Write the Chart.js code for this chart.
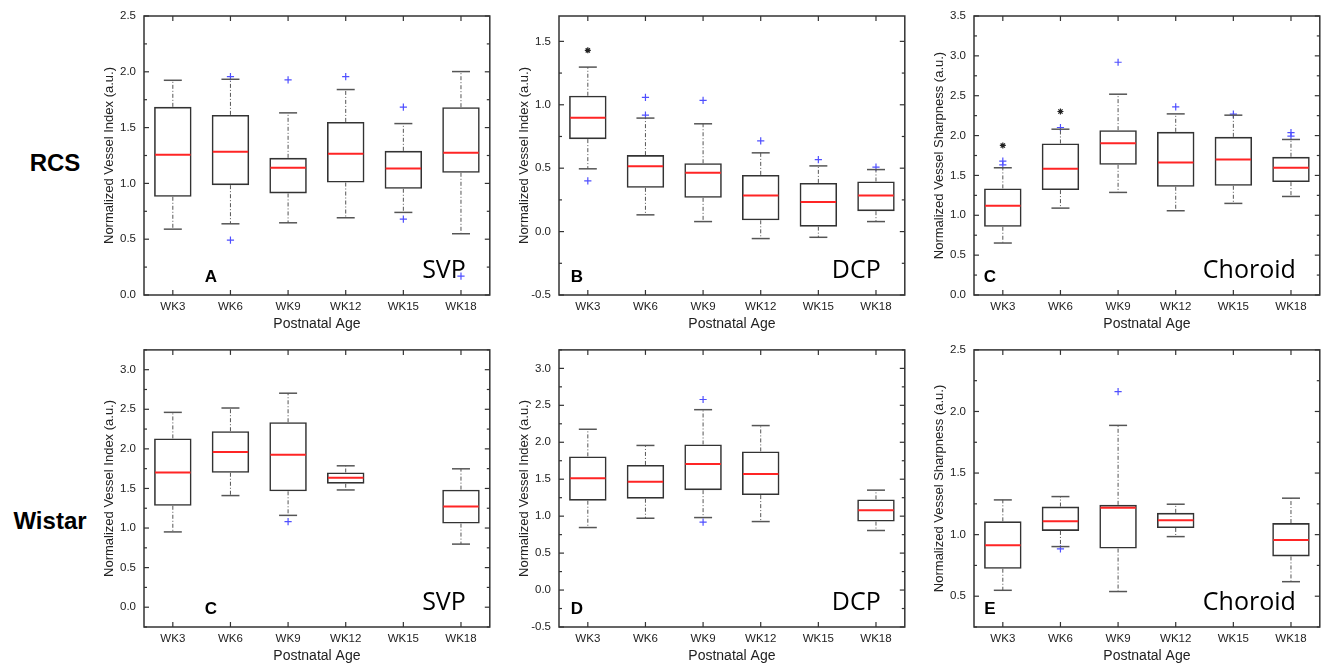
<!DOCTYPE html>
<html>
<head>
<meta charset="utf-8">
<script src="https://cdn.jsdelivr.net/npm/chart.js@4.4.0/dist/chart.umd.min.js"></script>
<style>
  body { margin: 0; background: #fff; width: 1323px; height: 664px; overflow: hidden; position: relative; font-family: "Liberation Sans", Arial, sans-serif; }
  canvas { position: absolute; }
  .row { position: absolute; font-weight: bold; font-size: 24px; color: #000; transform: translate(-50%, -50%); white-space: nowrap; }
</style>
</head>
<body>
<div class="row" style="left:55px;top:163px">RCS</div>
<div class="row" style="left:50px;top:521px">Wistar</div>
<canvas id="c0"></canvas>
<canvas id="c1"></canvas>
<canvas id="c2"></canvas>
<canvas id="c3"></canvas>
<canvas id="c4"></canvas>
<canvas id="c5"></canvas>
<script>
const weeks = ['WK3', 'WK6', 'WK9', 'WK12', 'WK15', 'WK18'];

// each box: [low whisker, Q1, median, Q3, high whisker]
const rcsSvp = [
  [0.59, 0.88, 1.256, 1.686, 1.924],
  [0.638, 0.984, 1.283, 1.614, 1.933],
  [0.647, 0.91, 1.14, 1.229, 1.632],
  [0.692, 1.008, 1.265, 1.551, 1.841],
  [0.74, 0.952, 1.134, 1.292, 1.536],
  [0.549, 1.095, 1.274, 1.683, 2.002]
];
const rcsSvpOutliers = [['WK6', 1.957], ['WK6', 0.492], ['WK9', 1.927], ['WK12', 1.957], ['WK15', 1.683], ['WK15', 0.68], ['WK18', 0.17]];

const rcsDcp = [
  [0.495, 0.729, 0.897, 1.071, 1.297],
  [0.132, 0.345, 0.516, 0.603, 0.895],
  [0.079, 0.266, 0.463, 0.539, 0.85],
  [-0.055, 0.089, 0.284, 0.447, 0.621],
  [-0.045, 0.039, 0.234, 0.384, 0.518],
  [0.079, 0.161, 0.284, 0.395, 0.489]
];
const rcsDcpOutliers = [['WK3', 0.40], ['WK6', 1.058], ['WK6', 0.918], ['WK9', 1.034], ['WK12', 0.716], ['WK15', 0.568], ['WK18', 0.508]];
const rcsDcpStars = [['WK3', 1.429]];

const rcsChoroid = [
  [0.652, 0.856, 1.119, 1.337, 1.596],
  [1.09, 1.316, 1.583, 1.901, 2.08],
  [1.287, 1.633, 1.905, 2.068, 2.519],
  [1.057, 1.358, 1.663, 2.047, 2.272],
  [1.149, 1.37, 1.7, 1.984, 2.256],
  [1.236, 1.416, 1.596, 1.734, 1.951]
];
const rcsChoroidOutliers = [['WK3', 1.679], ['WK3', 1.633], ['WK6', 2.101], ['WK9', 2.92], ['WK12', 2.36], ['WK15', 2.268], ['WK18', 2.038], ['WK18', 1.992]];
const rcsChoroidStars = [['WK3', 1.876], ['WK6', 2.302]];

const wistarSvp = [
  [0.951, 1.281, 1.702, 2.132, 2.461],
  [1.41, 1.698, 1.961, 2.223, 2.516],
  [1.16, 1.464, 1.927, 2.336, 2.703],
  [1.481, 1.56, 1.635, 1.702, 1.786],
  null,
  [0.797, 1.056, 1.272, 1.485, 1.748]
];
const wistarSvpOutliers = [['WK9', 1.081]];

const wistarDcp = [
  [0.846, 1.209, 1.514, 1.809, 2.176],
  [0.972, 1.236, 1.464, 1.693, 1.957],
  [0.981, 1.352, 1.706, 1.97, 2.441],
  [0.927, 1.285, 1.572, 1.876, 2.226],
  null,
  [0.806, 0.927, 1.079, 1.227, 1.352]
];
const wistarDcpOutliers = [['WK9', 2.579], ['WK9', 0.918]];

const wistarChoroid = [
  [0.548, 0.723, 0.914, 1.108, 1.282],
  [0.903, 1.03, 1.108, 1.228, 1.309],
  [0.538, 0.887, 1.218, 1.242, 1.887],
  [0.984, 1.054, 1.116, 1.177, 1.247],
  null,
  [0.618, 0.823, 0.957, 1.094, 1.296]
];
const wistarChoroidOutliers = [['WK6', 0.884], ['WK9', 2.161]];

const indexTitle = 'Normalized Vessel Index (a.u.)';
const sharpTitle = 'Normalized Vessel Sharpness (a.u.)';

const panels = [
  { id: 'c0', stats: rcsSvp, outliers: rcsSvpOutliers, stars: [], min: 0, max: 2.5, title: indexTitle, letter: 'A', region: 'SVP', left: 144, top: 0, pad: 16, height: 333, letterDx: 67 },
  { id: 'c1', stats: rcsDcp, outliers: rcsDcpOutliers, stars: rcsDcpStars, min: -0.5, max: 1.7, title: indexTitle, letter: 'B', region: 'DCP', left: 559, top: 0, pad: 16, height: 333, letterDx: 18 },
  { id: 'c2', stats: rcsChoroid, outliers: rcsChoroidOutliers, stars: rcsChoroidStars, min: 0, max: 3.5, title: sharpTitle, letter: 'C', region: 'Choroid', left: 974, top: 0, pad: 16, height: 333, letterDx: 16 },
  { id: 'c3', stats: wistarSvp, outliers: wistarSvpOutliers, stars: [], min: -0.25, max: 3.25, title: indexTitle, letter: 'C', region: 'SVP', left: 144, top: 335, pad: 13, height: 330, letterDx: 67 },
  { id: 'c4', stats: wistarDcp, outliers: wistarDcpOutliers, stars: [], min: -0.5, max: 3.25, title: indexTitle, letter: 'D', region: 'DCP', left: 559, top: 335, pad: 13, height: 330, letterDx: 18 },
  { id: 'c5', stats: wistarChoroid, outliers: wistarChoroidOutliers, stars: [], min: 0.25, max: 2.5, title: sharpTitle, letter: 'E', region: 'Choroid', left: 974, top: 335, pad: 13, height: 330, letterDx: 16 }
];

const Y_W = 42, PLOT_W = 348, X_H = 38, RIGHT_PAD = 3;
const BOX_FRAC = 0.65;
const FONT = '"Liberation Sans", Arial, sans-serif';

function line(ctx, x1, y1, x2, y2) {
  ctx.beginPath();
  ctx.moveTo(x1, y1);
  ctx.lineTo(x2, y2);
  ctx.stroke();
}

const boxPlot = {
  id: 'boxPlot',
  afterDatasetsDraw(chart, args, opts) {
    const { ctx, scales: { x, y } } = chart;
    const half = x.width / weeks.length * BOX_FRAC / 2;
    opts.stats.forEach((s, i) => {
      if (!s) return;
      const [low, q1, med, q3, high] = s;
      const cx = x.getPixelForValue(i);
      ctx.save();
      // whiskers, dash-dot
      ctx.strokeStyle = '#555';
      ctx.lineWidth = 1;
      ctx.setLineDash([4, 2, 1, 2]);
      line(ctx, cx, y.getPixelForValue(q3), cx, y.getPixelForValue(high));
      line(ctx, cx, y.getPixelForValue(q1), cx, y.getPixelForValue(low));
      ctx.setLineDash([]);
      // caps
      ctx.lineWidth = 1.5;
      line(ctx, cx - 9, y.getPixelForValue(high), cx + 9, y.getPixelForValue(high));
      line(ctx, cx - 9, y.getPixelForValue(low), cx + 9, y.getPixelForValue(low));
      // median
      ctx.strokeStyle = '#ff2525';
      ctx.lineWidth = 2;
      line(ctx, cx - half + 1, y.getPixelForValue(med), cx + half - 1, y.getPixelForValue(med));
      ctx.restore();
    });
  },
  afterDraw(chart, args, opts) {
    const { ctx, chartArea: { left, right, top, bottom }, scales: { x, y } } = chart;
    ctx.save();
    ctx.strokeStyle = '#333';
    ctx.lineWidth = 1.5;
    ctx.strokeRect(left, top, right - left, bottom - top);
    ctx.lineWidth = 1.2;
    // y ticks: major every 0.5, minor every 0.25, both sides, pointing in
    for (let k = Math.ceil(y.min / 0.25 - 1e-6); k * 0.25 <= y.max + 1e-6; k++) {
      const py = y.getPixelForValue(k * 0.25);
      const len = k % 2 === 0 ? 5 : 3;
      line(ctx, left, py, left + len, py);
      line(ctx, right, py, right - len, py);
    }
    weeks.forEach((w, i) => {
      const px = x.getPixelForValue(i);
      line(ctx, px, bottom, px, bottom - 5);
      line(ctx, px, top, px, top + 5);
    });
    // panel letter and plexus name
    ctx.fillStyle = '#000';
    ctx.textBaseline = 'alphabetic';
    ctx.textAlign = 'center';
    ctx.font = 'bold 17px ' + FONT;
    ctx.fillText(opts.letter, left + opts.letterDx, bottom - 13);
    ctx.textAlign = 'right';
    ctx.font = '25px "Open Sans", "Noto Sans", sans-serif';
    ctx.fillText(opts.region, right - 24, bottom - 17);
    ctx.restore();
  }
};

panels.forEach(p => {
  const canvas = document.getElementById(p.id);
  canvas.width = Y_W + PLOT_W + RIGHT_PAD;
  canvas.height = p.height;
  canvas.style.left = (p.left - Y_W) + 'px';
  canvas.style.top = p.top + 'px';

  const toPoints = list => list.map(([w, v]) => ({ x: w, y: v }));

  new Chart(canvas, {
    type: 'bar',
    data: {
      labels: weeks,
      datasets: [
        {
          type: 'bar',
          data: p.stats.map(s => s ? [s[1], s[3]] : null),
          backgroundColor: 'rgba(255,255,255,0)',
          borderColor: '#333',
          borderWidth: 1.6,
          borderSkipped: false,
          barPercentage: BOX_FRAC,
          categoryPercentage: 1
        },
        {
          type: 'line',
          data: toPoints(p.outliers),
          showLine: false,
          pointStyle: 'cross',
          pointRadius: 3.6,
          borderColor: '#4f4fff',
          borderWidth: 1.2,
          backgroundColor: '#4f4fff'
        },
        {
          type: 'line',
          data: toPoints(p.stars),
          showLine: false,
          pointStyle: 'star',
          pointRadius: 3,
          borderColor: '#222',
          borderWidth: 1.2,
          backgroundColor: '#222'
        }
      ]
    },
    options: {
      responsive: false,
      animation: false,
      devicePixelRatio: 1,
      layout: { padding: { top: p.pad, right: RIGHT_PAD, left: 0, bottom: 0 } },
      plugins: {
        legend: { display: false },
        tooltip: { enabled: false },
        boxPlot: { stats: p.stats, letter: p.letter, region: p.region, letterDx: p.letterDx }
      },
      scales: {
        x: {
          offset: true,
          grid: { display: false, drawTicks: false },
          border: { display: false },
          ticks: { color: '#222', padding: 5, font: { family: FONT, size: 11.5 } },
          title: { display: true, text: 'Postnatal Age', color: '#222', padding: 0, font: { family: FONT, size: 14 } },
          afterFit: s => { s.height = X_H; }
        },
        y: {
          min: p.min,
          max: p.max,
          grid: { display: false, drawTicks: false },
          border: { display: false },
          ticks: {
            color: '#222',
            padding: 8,
            font: { family: FONT, size: 11.5 },
            callback: v => v.toFixed(1)
          },
          afterBuildTicks: s => {
            const list = [];
            for (let k = Math.ceil(p.min / 0.5 - 1e-6); k * 0.5 <= p.max + 1e-6; k++) list.push({ value: k * 0.5 });
            s.ticks = list;
          },
          title: { display: true, text: p.title, color: '#222', padding: 0, font: { family: FONT, size: 13 } },
          afterFit: s => { s.width = Y_W; }
        }
      }
    },
    plugins: [boxPlot]
  });
});
</script>
</body>
</html>
